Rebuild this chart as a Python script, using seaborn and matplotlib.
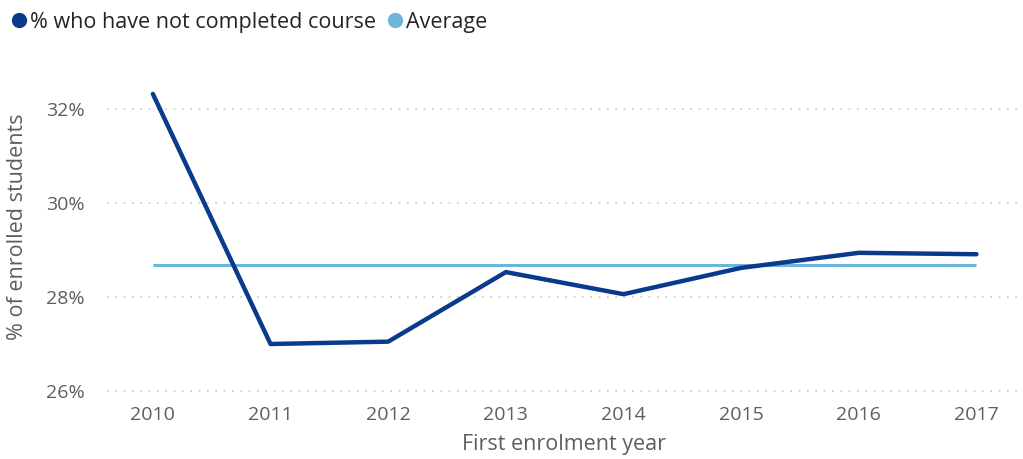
import numpy as np
import pandas as pd
import matplotlib.pyplot as plt
import seaborn as sns
from matplotlib.lines import Line2D

# values
years = [2010, 2011, 2012, 2013, 2014, 2015, 2016, 2017]
not_completed = [32.32, 27.00, 27.05, 28.53, 28.06, 28.62, 28.94, 28.91]
average = 28.69
y_ticks = [26, 28, 30, 32]

dark_blue = "#0A3A8C"
light_blue = "#6CB5DB"
grey_text = "#605E5C"

sns.set_theme(style="white")
plt.rcParams["font.family"] = ["Open Sans", "DejaVu Sans"]

df = pd.DataFrame({"year": years, "pct": not_completed})

fig = plt.figure(figsize=(10.23, 4.59), dpi=100)
ax = fig.add_axes([107 / 1023, 1 - 391 / 459, (1020 - 107) / 1023, (391 - 62) / 459])

# average line first so the series sits on top
ax.plot([years[0], years[-1]], [average, average], color=light_blue, lw=2.2, solid_capstyle="butt")
sns.lineplot(data=df, x="year", y="pct", ax=ax, color=dark_blue, lw=3.2)

ax.set_xlim(2009.61, 2017.37)
ax.set_ylim(26, 33.0)
ax.set_yticks(y_ticks)
ax.set_yticklabels([f"{t}%" for t in y_ticks])
ax.set_xticks(years)
ax.set_xticklabels([str(y) for y in years])

for t in y_ticks:
    ax.axhline(t, color="#C8C8C8", lw=1.2, ls=(0, (1, 4)), zorder=0, clip_on=False)

for s in ax.spines.values():
    s.set_visible(False)
ax.tick_params(axis="both", length=0, labelsize=14, colors=grey_text)
ax.tick_params(axis="y", pad=16)
ax.tick_params(axis="x", pad=11)

ax.set_xlabel("First enrolment year", fontsize=15.5, color=grey_text, labelpad=7)
ax.set_ylabel("% of enrolled students", fontsize=15.5, color=grey_text, labelpad=13)

handles = [
    Line2D([], [], marker="o", ls="", color=dark_blue, markersize=10),
    Line2D([], [], marker="o", ls="", color=light_blue, markersize=10),
]
fig.legend(handles, ["% who have not completed course", "Average"],
           loc="upper left", bbox_to_anchor=(0.002, 0.988), ncol=2, frameon=False,
           fontsize=15.5, handletextpad=0.0, columnspacing=0.4, handlelength=1.0,
           borderaxespad=0, borderpad=0.3, labelcolor="#252423")

fig.savefig("out.png", dpi=100)
